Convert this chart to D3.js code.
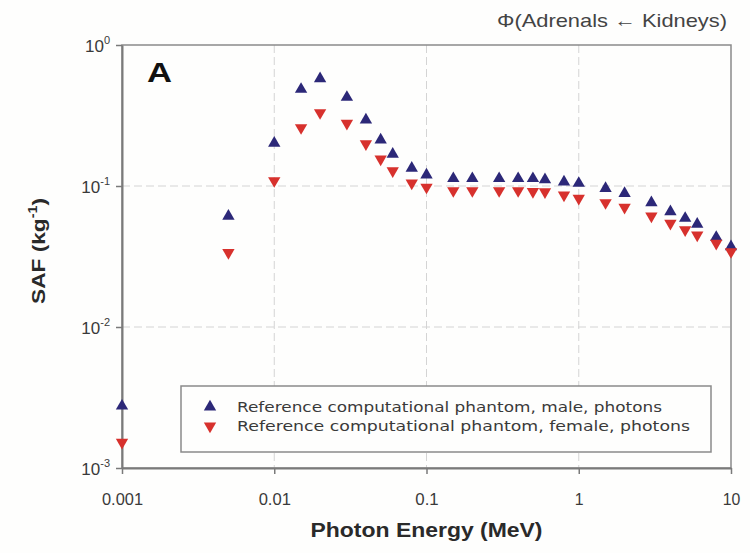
<!DOCTYPE html>
<html>
<head>
<meta charset="utf-8">
<script src="https://cdn.jsdelivr.net/npm/d3@7"></script>
<style>
  body { margin: 0; background: #fefefd; }
  svg { display: block; }
</style>
</head>
<body>
<svg id="chart" width="750" height="553"></svg>
<script>
// ---- data ----
const energies = [0.001, 0.005, 0.01, 0.015, 0.02, 0.03, 0.04, 0.05, 0.06, 0.08, 0.1, 0.15, 0.2, 0.3, 0.4, 0.5, 0.6, 0.8, 1, 1.5, 2, 3, 4, 5, 6, 8, 10];
const maleSAF   = [0.00275, 0.0612, 0.201, 0.485, 0.577, 0.426, 0.294, 0.212, 0.168, 0.134, 0.120, 0.113, 0.113, 0.113, 0.113, 0.113, 0.111, 0.107, 0.1045, 0.0962, 0.0887, 0.0761, 0.0657, 0.059, 0.0537, 0.0433, 0.0371];
const femaleSAF = [0.00152, 0.0337, 0.109, 0.259, 0.331, 0.278, 0.199, 0.155, 0.128, 0.105, 0.098, 0.0926, 0.0926, 0.0926, 0.0926, 0.0912, 0.091, 0.0863, 0.0818, 0.0761, 0.0706, 0.0612, 0.0544, 0.0488, 0.0449, 0.0392, 0.0342];
const xTicks = [0.001, 0.01, 0.1, 1, 10];
const xTickLabels = ["0.001", "0.01", "0.1", "1", "10"];
const yTicks = [1, 0.1, 0.01, 0.001];
const yTickExponents = ["0", "-1", "-2", "-3"];
const seriesNames = ["Reference computational phantom, male, photons", "Reference computational phantom, female, photons"];
const titleText = "Φ(Adrenals ← Kidneys)";
const panelLabel = "A";
const xLabel = "Photon Energy (MeV)";

// ---- layout ----
const svg = d3.select("#chart");
const m = { left: 122, right: 731, top: 45, bottom: 468 };
const x = d3.scaleLog().domain([0.001, 10]).range([m.left, m.right]);
const y = d3.scaleLog().domain([0.001, 1]).range([m.bottom, m.top]);
const font = "'Liberation Sans', Arial, sans-serif";
const textCol = "#3a3a3a";
const maleCol = "#2c2878";
const femaleCol = "#d7312d";

// gridlines
const grid = svg.append("g");
grid.selectAll("line.vx").data(xTicks.slice(1, -1)).enter().append("line")
  .attr("x1", d => x(d)).attr("x2", d => x(d))
  .attr("y1", m.top).attr("y2", m.bottom)
  .attr("stroke", "#d4d4d4").attr("stroke-width", 1).attr("stroke-dasharray", "8,4");
grid.selectAll("line.hy").data(yTicks.slice(1, -1)).enter().append("line")
  .attr("x1", m.left).attr("x2", m.right)
  .attr("y1", d => y(d)).attr("y2", d => y(d))
  .attr("stroke", "#d4d4d4").attr("stroke-width", 1).attr("stroke-dasharray", "8,4");

// frame
svg.append("rect").attr("x", m.left).attr("y", m.top)
  .attr("width", m.right - m.left).attr("height", m.bottom - m.top)
  .attr("fill", "none").attr("stroke", "#8a8a8a").attr("stroke-width", 1.5);

// axes
const xAxis = svg.append("g").attr("transform", `translate(0,${m.bottom})`)
  .call(d3.axisBottom(x).tickValues(xTicks).tickSize(6).tickSizeOuter(0).tickFormat((d, i) => xTickLabels[i]));
xAxis.select(".domain").attr("stroke", "#7a7a7a").attr("stroke-width", 2);
xAxis.selectAll(".tick line").attr("stroke", "#7a7a7a").attr("stroke-width", 1.5);
xAxis.selectAll(".tick text").attr("font-family", font).attr("font-size", 16).attr("fill", textCol)
  .attr("y", 26).attr("dy", "0.71em")
  .attr("textLength", (d, i) => xTickLabels[i].length * 8.8 + (xTickLabels[i].includes(".") ? -3 : 0))
  .attr("lengthAdjust", "spacingAndGlyphs");

const yAxis = svg.append("g").attr("transform", `translate(${m.left},0)`)
  .call(d3.axisLeft(y).tickValues(yTicks).tickSize(6).tickSizeOuter(0).tickFormat(""));
yAxis.select(".domain").attr("stroke", "#7a7a7a").attr("stroke-width", 2);
yAxis.selectAll(".tick line").attr("stroke", "#7a7a7a").attr("stroke-width", 1.5);
yAxis.selectAll(".tick").each(function(d) {
  const t = d3.select(this).append("text")
    .attr("x", -12).attr("y", 6).attr("text-anchor", "end")
    .attr("font-family", font).attr("font-size", 17).attr("fill", textCol);
  t.append("tspan").text("10");
  t.append("tspan").attr("font-size", 11).attr("dy", -8).text(yTickExponents[yTicks.indexOf(d)]);
});

// axis titles
svg.append("text").attr("x", (m.left + m.right) / 2).attr("y", 537)
  .attr("text-anchor", "middle").attr("font-family", font).attr("font-weight", "bold")
  .attr("font-size", 20).attr("fill", "#2a2a2a")
  .attr("textLength", 232).attr("lengthAdjust", "spacingAndGlyphs").text(xLabel);
const yl = svg.append("text").attr("transform", "translate(45,251) rotate(-90)")
  .attr("text-anchor", "middle").attr("font-family", font).attr("font-weight", "bold")
  .attr("font-size", 19).attr("fill", "#2a2a2a")
  .attr("textLength", 106).attr("lengthAdjust", "spacingAndGlyphs");
yl.append("tspan").text("SAF (kg");
yl.append("tspan").attr("font-size", 12).attr("dy", -8).text("-1");
yl.append("tspan").attr("dy", 8).text(")");

// title and panel label
svg.append("text").attr("x", 727).attr("y", 27).attr("text-anchor", "end")
  .attr("font-family", font).attr("font-size", 19).attr("fill", "#444")
  .attr("textLength", 230).attr("lengthAdjust", "spacingAndGlyphs").text(titleText);
svg.append("text").attr("x", 147).attr("y", 82)
  .attr("font-family", font).attr("font-weight", "bold").attr("font-size", 27).attr("fill", "#111")
  .attr("textLength", 25).attr("lengthAdjust", "spacingAndGlyphs").text(panelLabel);

// markers
const tri = d3.symbol().type(d3.symbolTriangle).size(66);
svg.append("g").selectAll("path").data(energies.map((e, i) => [e, maleSAF[i]])).enter().append("path")
  .attr("d", tri).attr("fill", maleCol)
  .attr("transform", d => `translate(${x(d[0])},${y(d[1])})`);
svg.append("g").selectAll("path").data(energies.map((e, i) => [e, femaleSAF[i]])).enter().append("path")
  .attr("d", tri).attr("fill", femaleCol)
  .attr("transform", d => `translate(${x(d[0])},${y(d[1])}) rotate(180)`);

// legend
const lg = svg.append("g");
lg.append("rect").attr("x", 181).attr("y", 386).attr("width", 530).attr("height", 66)
  .attr("fill", "#fefefd").attr("stroke", "#8a8a8a").attr("stroke-width", 1.5);
const lgItems = [{ name: seriesNames[0], col: maleCol, rot: 0, len: 425 },
                 { name: seriesNames[1], col: femaleCol, rot: 180, len: 453 }];
lgItems.forEach((it, i) => {
  const yy = 407 + i * 19;
  lg.append("path").attr("d", tri).attr("fill", it.col)
    .attr("transform", `translate(210,${yy}) rotate(${it.rot})`);
  lg.append("text").attr("x", 237).attr("y", yy + 5)
    .attr("font-family", "'DejaVu Sans', Verdana, sans-serif").attr("font-size", 14.5)
    .attr("fill", "#3a3a3a").attr("textLength", it.len).attr("lengthAdjust", "spacingAndGlyphs")
    .text(it.name);
});
</script>
</body>
</html>
